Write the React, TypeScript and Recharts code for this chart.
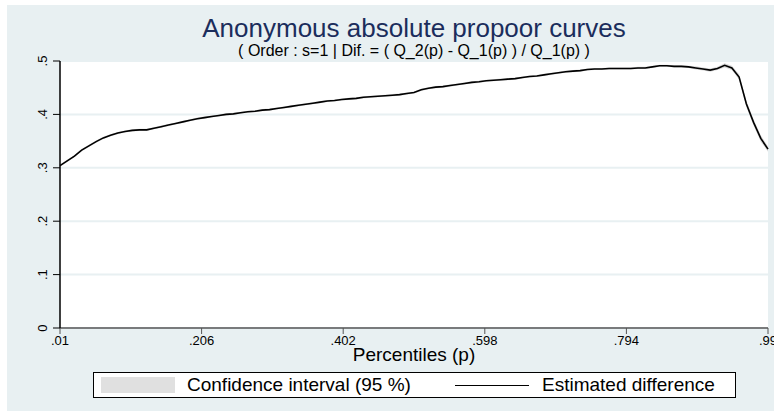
import React from 'react';
import { ComposedChart, Line, Area, XAxis, YAxis, CartesianGrid, Legend } from 'recharts';

const percentiles = [
  0.01, 0.02, 0.03, 0.04, 0.05, 0.06, 0.07, 0.08, 0.09, 0.1,
  0.11, 0.12, 0.13, 0.14, 0.15, 0.16, 0.17, 0.18, 0.19, 0.2,
  0.21, 0.22, 0.23, 0.24, 0.25, 0.26, 0.27, 0.28, 0.29, 0.3,
  0.31, 0.32, 0.33, 0.34, 0.35, 0.36, 0.37, 0.38, 0.39, 0.4,
  0.41, 0.42, 0.43, 0.44, 0.45, 0.46, 0.47, 0.48, 0.49, 0.5,
  0.51, 0.52, 0.53, 0.54, 0.55, 0.56, 0.57, 0.58, 0.59, 0.6,
  0.61, 0.62, 0.63, 0.64, 0.65, 0.66, 0.67, 0.68, 0.69, 0.7,
  0.71, 0.72, 0.73, 0.74, 0.75, 0.76, 0.77, 0.78, 0.79, 0.8,
  0.81, 0.82, 0.83, 0.84, 0.85, 0.86, 0.87, 0.88, 0.89, 0.9,
  0.91, 0.92, 0.93, 0.94, 0.95, 0.96, 0.97, 0.98, 0.99,
];

const estimatedDifference = [
  0.304, 0.313, 0.322, 0.333, 0.341, 0.349, 0.356, 0.361, 0.365, 0.368,
  0.370, 0.371, 0.371, 0.374, 0.377, 0.380, 0.383, 0.386, 0.389, 0.392,
  0.394, 0.396, 0.398, 0.400, 0.401, 0.403, 0.405, 0.406, 0.408, 0.409,
  0.411, 0.413, 0.415, 0.417, 0.419, 0.421, 0.423, 0.425, 0.426, 0.428,
  0.429, 0.430, 0.432, 0.433, 0.434, 0.435, 0.436, 0.437, 0.439, 0.441,
  0.446, 0.449, 0.451, 0.452, 0.454, 0.456, 0.458, 0.460, 0.461, 0.463,
  0.464, 0.465, 0.466, 0.467, 0.469, 0.471, 0.472, 0.474, 0.476, 0.478,
  0.480, 0.481, 0.482, 0.484, 0.485, 0.485, 0.486, 0.486, 0.486, 0.486,
  0.487, 0.487, 0.489, 0.491, 0.491, 0.490, 0.490, 0.489, 0.487, 0.485,
  0.483, 0.486, 0.492, 0.487, 0.470, 0.420, 0.385, 0.355, 0.335,
];

const ciHalfWidth = [
  0.002, 0.002, 0.002, 0.002, 0.002, 0.002, 0.002, 0.002, 0.002, 0.002,
  0.002, 0.002, 0.002, 0.002, 0.002, 0.002, 0.002, 0.002, 0.002, 0.002,
  0.002, 0.002, 0.002, 0.002, 0.002, 0.002, 0.002, 0.002, 0.002, 0.002,
  0.002, 0.002, 0.002, 0.002, 0.002, 0.002, 0.002, 0.002, 0.002, 0.002,
  0.002, 0.002, 0.002, 0.002, 0.002, 0.002, 0.002, 0.002, 0.002, 0.002,
  0.002, 0.002, 0.002, 0.002, 0.002, 0.002, 0.002, 0.002, 0.002, 0.002,
  0.002, 0.002, 0.002, 0.002, 0.002, 0.002, 0.002, 0.002, 0.002, 0.002,
  0.002, 0.002, 0.002, 0.002, 0.002, 0.002, 0.002, 0.002, 0.002, 0.002,
  0.002, 0.002, 0.002, 0.002, 0.002, 0.002, 0.002, 0.002, 0.003, 0.003,
  0.003, 0.003, 0.004, 0.004, 0.005, 0.006, 0.006, 0.006, 0.005,
];

const xTicks = [0.01, 0.206, 0.402, 0.598, 0.794, 0.99];
const yTicks = [0, 0.1, 0.2, 0.3, 0.4, 0.5];

const TITLE = 'Anonymous absolute propoor curves';
const SUBTITLE = '( Order : s=1 | Dif. = ( Q_2(p) - Q_1(p) ) / Q_1(p) )';
const X_LABEL = 'Percentiles (p)';
const LEGEND_CI = 'Confidence interval (95 %)';
const LEGEND_LINE = 'Estimated difference';

const data = percentiles.map((p, i) => ({
  p,
  diff: estimatedDifference[i],
  ci: [estimatedDifference[i] - ciHalfWidth[i], estimatedDifference[i] + ciHalfWidth[i]],
}));

const FONT = '"Liberation Sans", Arial, sans-serif';
const BG = '#e8f0f2';

const fmt = (v: number) => {
  const s = String(v);
  return s.startsWith('0.') ? s.slice(1) : s;
};

const YTick = (props: any) => {
  const { x, y, payload } = props;
  const bx = x - 2;
  return (
    <text
      x={bx}
      y={y}
      transform={`rotate(-90 ${bx} ${y})`}
      textAnchor="middle"
      fontSize={13}
      fontFamily={FONT}
      fill="#000"
    >
      {fmt(payload.value)}
    </text>
  );
};

const LegendBox = () => (
  <div
    style={{
      position: 'relative',
      width: 643,
      height: 26,
      boxSizing: 'border-box',
      border: '1px solid #000',
      background: '#fff',
      fontFamily: FONT,
      fontSize: 19,
      color: '#000',
    }}
  >
    <div style={{ position: 'absolute', left: 7, top: 4, width: 74, height: 16, background: '#e0e0e0' }} />
    <div style={{ position: 'absolute', left: 93, top: 1, whiteSpace: 'nowrap', lineHeight: '22px' }}>{LEGEND_CI}</div>
    <div style={{ position: 'absolute', left: 361, top: 12, width: 74, height: 0, borderTop: '1.5px solid #000' }} />
    <div style={{ position: 'absolute', left: 448, top: 1, whiteSpace: 'nowrap', lineHeight: '22px' }}>{LEGEND_LINE}</div>
  </div>
);

export default function App() {
  return (
    <div style={{ position: 'absolute', left: 0, top: 0, width: 774, height: 411, background: '#fff', overflow: 'hidden' }}>
      <div style={{ position: 'absolute', left: 7, top: 5, right: 0, bottom: 0, background: BG }} />
      <div
        style={{
          position: 'absolute', left: 414, top: 14, transform: 'translateX(-50%)', whiteSpace: 'nowrap',
          fontFamily: FONT, fontSize: 26, color: '#1b2d5c', lineHeight: '29px',
        }}
      >
        {TITLE}
      </div>
      <div
        style={{
          position: 'absolute', left: 414, top: 42, transform: 'translateX(-50%)', whiteSpace: 'nowrap',
          fontFamily: FONT, fontSize: 16, color: '#000', lineHeight: '18px',
        }}
      >
        {SUBTITLE}
      </div>
      <div style={{ position: 'absolute', left: 0, top: 0 }}>
        <ComposedChart width={774} height={411} data={data} margin={{ top: 61, right: 6, bottom: 53, left: 0 }}>
          <CartesianGrid vertical={false} horizontal={true} fill="#ffffff" stroke={BG} strokeWidth={2} />
          <XAxis
            dataKey="p"
            type="number"
            domain={[0.01, 0.99]}
            ticks={xTicks}
            tickFormatter={fmt}
            height={30}
            axisLine={{ stroke: '#555', strokeWidth: 1.5 }}
            tickLine={{ stroke: '#555' }}
            tickSize={6}
            tickMargin={2}
            tick={{ fontSize: 13, fontFamily: FONT, fill: '#000' }}
            label={{ value: X_LABEL, position: 'insideBottom', offset: -3, fontSize: 19, fontFamily: FONT, fill: '#000' }}
            interval={0}
          />
          <YAxis
            type="number"
            domain={[0, 0.5]}
            ticks={yTicks}
            width={60}
            axisLine={{ stroke: '#000', strokeWidth: 1.5 }}
            tickLine={{ stroke: '#000' }}
            tickSize={7}
            tickMargin={4}
            tick={<YTick />}
            interval={0}
          />
          <Area
            dataKey="ci"
            type="linear"
            stroke="none"
            fill="#d8d8d8"
            fillOpacity={1}
            isAnimationActive={false}
          />
          <Line
            dataKey="diff"
            type="linear"
            stroke="#000"
            strokeWidth={1.6}
            dot={false}
            isAnimationActive={false}
          />
          <Legend
            layout="horizontal"
            verticalAlign="middle"
            align="center"
            wrapperStyle={{ left: 93, top: 372, width: 643, height: 26 }}
            content={() => <LegendBox />}
          />
        </ComposedChart>
      </div>
    </div>
  );
}
